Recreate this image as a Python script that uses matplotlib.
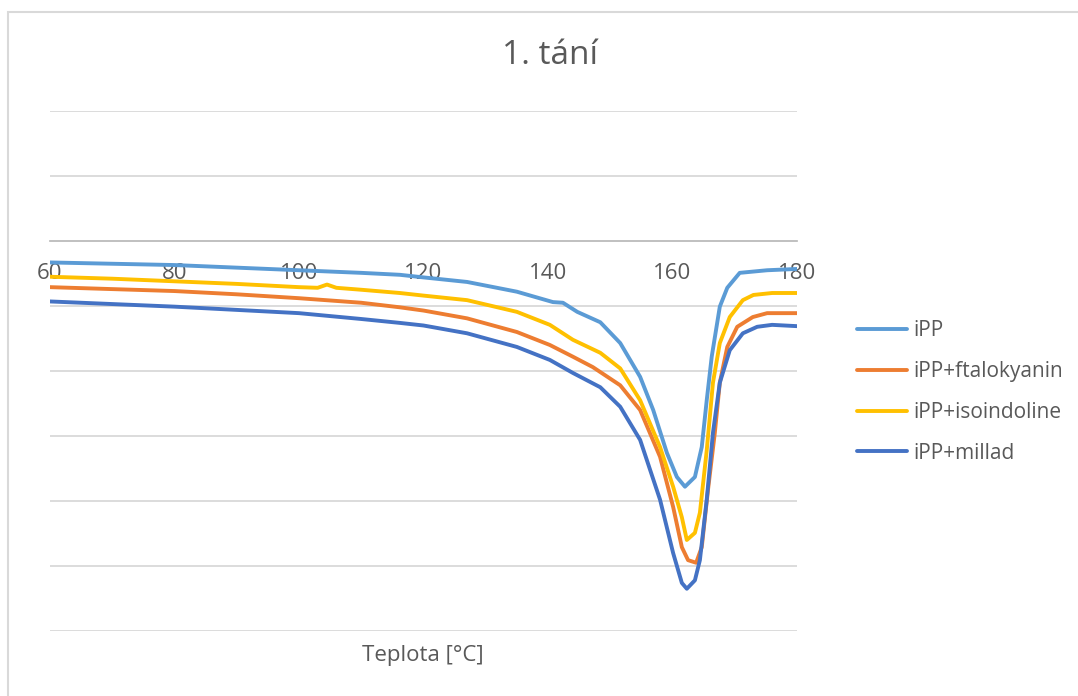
import matplotlib
matplotlib.use("Agg")
import matplotlib.pyplot as plt
from matplotlib.patches import Rectangle

plt.rcParams['font.family'] = ['Open Sans', 'DejaVu Sans']

# (temperature in C, heat flow in axis units)
t_ipp = [60, 70, 80, 90, 100, 110, 116.2, 120, 127, 135, 140.8, 142.4, 144.7, 148.4,
         151.6, 154.8, 156.9, 159.1, 160.7, 162, 163.6, 164.7, 165.5, 166.3, 167.6,
         168.8, 170.8, 175.2, 180]
y_ipp = [-0.33, -0.35, -0.37, -0.41, -0.45, -0.49, -0.52, -0.56, -0.63, -0.78, -0.94,
         -0.95, -1.09, -1.25, -1.57, -2.09, -2.6, -3.26, -3.63, -3.78, -3.63, -3.17,
         -2.45, -1.78, -1.01, -0.72, -0.49, -0.45, -0.43]

t_ftal = [60, 70, 80, 90, 100, 110, 116.2, 120, 127, 135, 140.3, 144, 147.2, 151.6,
          154.8, 158, 160.1, 161.5, 162.5, 163.8, 164.7, 165.7, 166.8, 167.6, 168.8,
          170.4, 172.9, 175.2, 180]
y_ftal = [-0.71, -0.74, -0.77, -0.82, -0.88, -0.95, -1.02, -1.07, -1.19, -1.4, -1.6,
          -1.78, -1.94, -2.22, -2.6, -3.32, -4.09, -4.71, -4.91, -4.95, -4.71, -3.83,
          -2.95, -2.18, -1.63, -1.32, -1.17, -1.11, -1.11]

t_iso = [60, 70, 80, 90, 100, 103, 104.5, 106, 110, 116.2, 120, 127, 135, 140.3, 144,
         148.4, 151.6, 154.8, 158, 160.1, 161.5, 162.3, 163.6, 164.4, 165.5, 166.5,
         167.6, 169.2, 171.3, 173, 176, 180]
y_iso = [-0.55, -0.58, -0.62, -0.66, -0.71, -0.72, -0.67, -0.72, -0.75, -0.8, -0.84,
         -0.91, -1.09, -1.29, -1.52, -1.72, -1.96, -2.45, -3.17, -3.78, -4.25, -4.6,
         -4.49, -4.18, -3.22, -2.18, -1.57, -1.17, -0.91, -0.83, -0.8, -0.8]

t_mil = [60, 70, 80, 90, 100, 110, 116.2, 120, 127, 135, 140.3, 144, 148.4, 151.6,
         154.8, 158, 160.1, 161.5, 162.3, 163.6, 164.4, 165.5, 166.5, 167.6, 169.2,
         171.3, 173.6, 176, 180]
y_mil = [-0.93, -0.97, -1.01, -1.06, -1.11, -1.2, -1.26, -1.3, -1.42, -1.63, -1.83,
         -2.03, -2.25, -2.55, -3.06, -3.98, -4.8, -5.26, -5.35, -5.22, -4.91, -3.98,
         -2.95, -2.18, -1.68, -1.42, -1.32, -1.29, -1.31]

labels = ['iPP', 'iPP+ftalokyanin', 'iPP+isoindoline', 'iPP+millad']
colors = ['#5B9BD5', '#ED7D31', '#FFC000', '#4472C4']
x_ticks = [60, 80, 100, 120, 140, 160, 180]

txt = '#595959'
fig = plt.figure(figsize=(10.78, 6.96), dpi=100)
fig.patches.append(Rectangle((8 / 1078, -0.1), 1.2, 1 - 12 / 696 + 0.1,
                             transform=fig.transFigure, fill=False,
                             edgecolor='#D9D9D9', lw=1.5))

ax = fig.add_axes([50 / 1078, 1 - 631 / 696, 747 / 1078, 520 / 696])
series = [(t_ipp, y_ipp), (t_ftal, y_ftal), (t_iso, y_iso), (t_mil, y_mil)]
for (t, y), lab, c in zip(series, labels, colors):
    ax.plot(t, y, color=c, lw=2.8, label=lab, solid_capstyle='round',
            solid_joinstyle='round', zorder=3)

ax.set_xlim(60, 180)
ax.set_ylim(-6, 2)
ax.set_yticks(range(-6, 3))
ax.set_yticklabels([])
ax.tick_params(axis='y', length=0)
ax.grid(axis='y', color='#D9D9D9', lw=1.3)
for s in ['top', 'right', 'left']:
    ax.spines[s].set_visible(False)
ax.spines['bottom'].set_position(('data', 0))
ax.spines['bottom'].set_color('#BFBFBF')
ax.spines['bottom'].set_linewidth(1.3)
ax.set_xticks(x_ticks)
ax.tick_params(axis='x', length=0, pad=16, labelsize=16, labelcolor=txt)

fig.text(423 / 1078, 1 - 655 / 696, 'Teplota [°C]', ha='center', va='center',
         fontsize=16, color=txt)
fig.text(550 / 1078, 1 - 56 / 696, '1. tání', ha='center', va='center',
         fontsize=24, color=txt)

leg = fig.legend(loc='center left', bbox_to_anchor=(838 / 1078, 1 - 392 / 696),
                 frameon=False, fontsize=15, labelcolor=txt, handlelength=2.4,
                 handletextpad=0.3, labelspacing=0.95)
for h in leg.get_lines():
    h.set_linewidth(2.8)

fig.savefig('out.png', dpi=100)
